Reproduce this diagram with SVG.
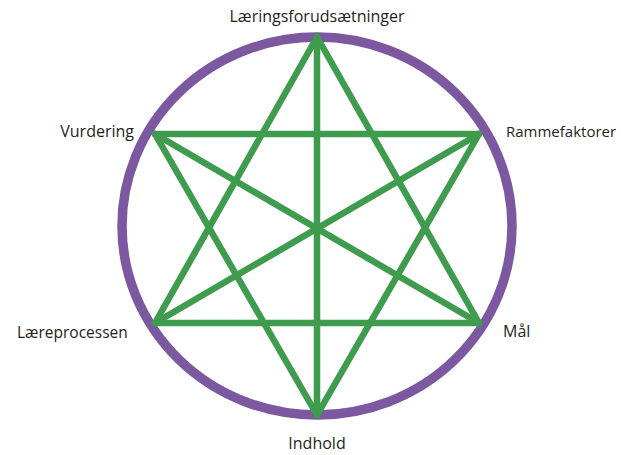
<svg xmlns="http://www.w3.org/2000/svg" width="621" height="455" viewBox="0 0 621 455">
<style>
.lbl{font-family:"Open Sans","Liberation Sans",sans-serif;font-size:16px;fill:#231f20}
.ln{stroke:#3f9c4e;stroke-width:6.5;stroke-linecap:round;fill:none}
</style>
<rect width="621" height="455" fill="#fff"/>
<g id="ring"><ellipse cx="317" cy="226" rx="195" ry="189" fill="none" stroke="#7c58a0" stroke-width="9.5"/></g>
<g id="connectors">
<line class="ln" x1="317" y1="37" x2="155" y2="323"/>
<line class="ln" x1="317" y1="37" x2="479" y2="323"/>
<line class="ln" x1="155" y1="323" x2="479" y2="323"/>
<line class="ln" x1="317" y1="415" x2="155" y2="134"/>
<line class="ln" x1="317" y1="415" x2="479" y2="134"/>
<line class="ln" x1="155" y1="134" x2="479" y2="134"/>
<line class="ln" x1="317" y1="37" x2="317" y2="415"/>
<line class="ln" x1="155" y1="134" x2="479" y2="323"/>
<line class="ln" x1="479" y1="134" x2="155" y2="323"/>
</g>
<g id="n1"><text class="lbl" x="317" y="22" text-anchor="middle">Læringsforudsætninger</text></g>
<g id="n2"><text class="lbl" x="134" y="137" text-anchor="end">Vurdering</text></g>
<g id="n3"><text class="lbl" x="506" y="137" style="font-size:15px">Rammefaktorer</text></g>
<g id="n4"><text class="lbl" x="17" y="338" style="font-size:15.5px">Læreprocessen</text></g>
<g id="n5"><text class="lbl" x="503" y="337">Mål</text></g>
<g id="n6"><text class="lbl" x="317" y="449" text-anchor="middle">Indhold</text></g>
</svg>
